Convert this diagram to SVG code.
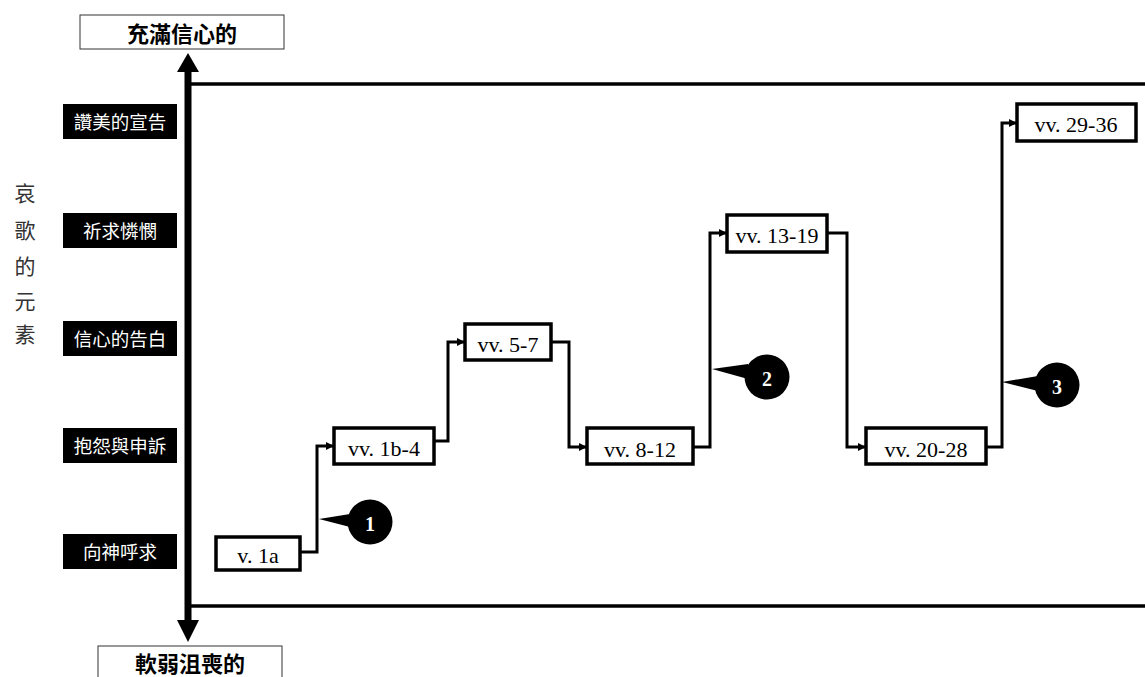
<svg xmlns="http://www.w3.org/2000/svg" width="1145" height="677" viewBox="0 0 1145 677">
<defs>
<style>
.lbl{fill:#000}
.lbltxt{fill:#fff;font-family:"Noto Sans CJK TC","Noto Sans CJK SC",sans-serif;font-size:18.5px;text-anchor:middle;dominant-baseline:central}
.node{fill:#fff;stroke:#000;stroke-width:3.5}
.ntxt{fill:#000;font-family:"Liberation Serif",serif;font-size:22px;text-anchor:middle}
.conn{fill:none;stroke:#000;stroke-width:3}
.cap{fill:#fff;stroke:#333;stroke-width:1}
.captxt{fill:#000;font-family:"Noto Sans CJK TC","Noto Sans CJK SC",sans-serif;font-size:22px;font-weight:bold;text-anchor:middle;dominant-baseline:central}
.vert{fill:#333;font-family:"Noto Sans CJK TC","Noto Sans CJK SC",sans-serif;font-size:21px;text-anchor:middle;dominant-baseline:central}
.ctxt{fill:#fff;font-family:"Liberation Serif",serif;font-size:20px;font-weight:bold;text-anchor:middle;dominant-baseline:central}
</style>
<marker id="ah" markerWidth="8" markerHeight="8" refX="7" refY="4" orient="auto" markerUnits="userSpaceOnUse">
<path d="M0,0 L8,4 L0,8 z" fill="#000"/>
</marker>
</defs>
<rect width="1145" height="677" fill="#fff"/>

<g id="frame">
<line x1="188" y1="84" x2="1145" y2="84" stroke="#000" stroke-width="3.5"/>
<line x1="188" y1="606" x2="1145" y2="606" stroke="#000" stroke-width="3.5"/>
</g>

<g id="axis">
<line x1="188" y1="70" x2="188" y2="622" stroke="#000" stroke-width="7"/>
<path d="M177,72 L188,53 L199,72 z" fill="#000"/>
<path d="M177,620 L188,642 L199,620 z" fill="#000"/>
</g>

<g id="cap-top">
<rect class="cap" x="80" y="15" width="204" height="34"/>
<text class="captxt" x="182" y="32">充滿信心的</text>
</g>
<g id="cap-bottom">
<rect class="cap" x="98" y="646" width="184" height="40"/>
<text class="captxt" x="190" y="662">軟弱沮喪的</text>
</g>

<g id="axis-title">
<text class="vert" x="25" y="192">哀</text>
<text class="vert" x="25" y="229">歌</text>
<text class="vert" x="25" y="265">的</text>
<text class="vert" x="25" y="300">元</text>
<text class="vert" x="25" y="333">素</text>
</g>

<g id="label-praise"><rect class="lbl" x="63" y="104" width="114" height="35"/><text class="lbltxt" x="120" y="121">讚美的宣告</text></g>
<g id="label-mercy"><rect class="lbl" x="63" y="213" width="114" height="35"/><text class="lbltxt" x="120" y="230">祈求憐憫</text></g>
<g id="label-trust"><rect class="lbl" x="63" y="321" width="114" height="35"/><text class="lbltxt" x="120" y="338">信心的告白</text></g>
<g id="label-complaint"><rect class="lbl" x="63" y="428" width="114" height="35"/><text class="lbltxt" x="120" y="445">抱怨與申訴</text></g>
<g id="label-call"><rect class="lbl" x="63" y="534" width="114" height="35"/><text class="lbltxt" x="120" y="551">向神呼求</text></g>

<g id="connectors">
<path class="conn" d="M300,552 H317 V446 H333" marker-end="url(#ah)"/>
<path class="conn" d="M434,441 H448 V342 H464" marker-end="url(#ah)"/>
<path class="conn" d="M551,342 H569 V447 H586" marker-end="url(#ah)"/>
<path class="conn" d="M693,447 H710 V233 H726" marker-end="url(#ah)"/>
<path class="conn" d="M827,233 H847 V447 H865" marker-end="url(#ah)"/>
<path class="conn" d="M986,447 H1002 V123 H1016" marker-end="url(#ah)"/>
</g>

<g id="n1a"><rect class="node" x="216" y="537" width="84" height="33"/><text class="ntxt" x="258" y="563">v. 1a</text></g>
<g id="n1b4"><rect class="node" x="334" y="428" width="100" height="36"/><text class="ntxt" x="384" y="456">vv. 1b-4</text></g>
<g id="n57"><rect class="node" x="465" y="324" width="86" height="36"/><text class="ntxt" x="508" y="352">vv. 5-7</text></g>
<g id="n812"><rect class="node" x="587" y="428" width="106" height="36"/><text class="ntxt" x="640" y="457">vv. 8-12</text></g>
<g id="n1319"><rect class="node" x="727" y="215" width="100" height="37"/><text class="ntxt" x="777" y="243">vv. 13-19</text></g>
<g id="n2028"><rect class="node" x="866" y="428" width="120" height="36"/><text class="ntxt" x="926" y="457">vv. 20-28</text></g>
<g id="n2936"><rect class="node" x="1017" y="104" width="119" height="37"/><text class="ntxt" x="1076" y="132">vv. 29-36</text></g>

<g id="callout1">
<path d="M319,519 L350,514 L350,527 z" fill="#000"/>
<circle cx="370" cy="522" r="22.5" fill="#000"/>
<text class="ctxt" x="370" y="524">1</text>
</g>
<g id="callout2">
<path d="M712,369 L748,364 L748,379 z" fill="#000"/>
<circle cx="767" cy="377" r="22.5" fill="#000"/>
<text class="ctxt" x="767" y="379">2</text>
</g>
<g id="callout3">
<path d="M1002,382 L1038,376 L1038,391 z" fill="#000"/>
<circle cx="1057" cy="385" r="22.5" fill="#000"/>
<text class="ctxt" x="1057" y="387">3</text>
</g>
</svg>
